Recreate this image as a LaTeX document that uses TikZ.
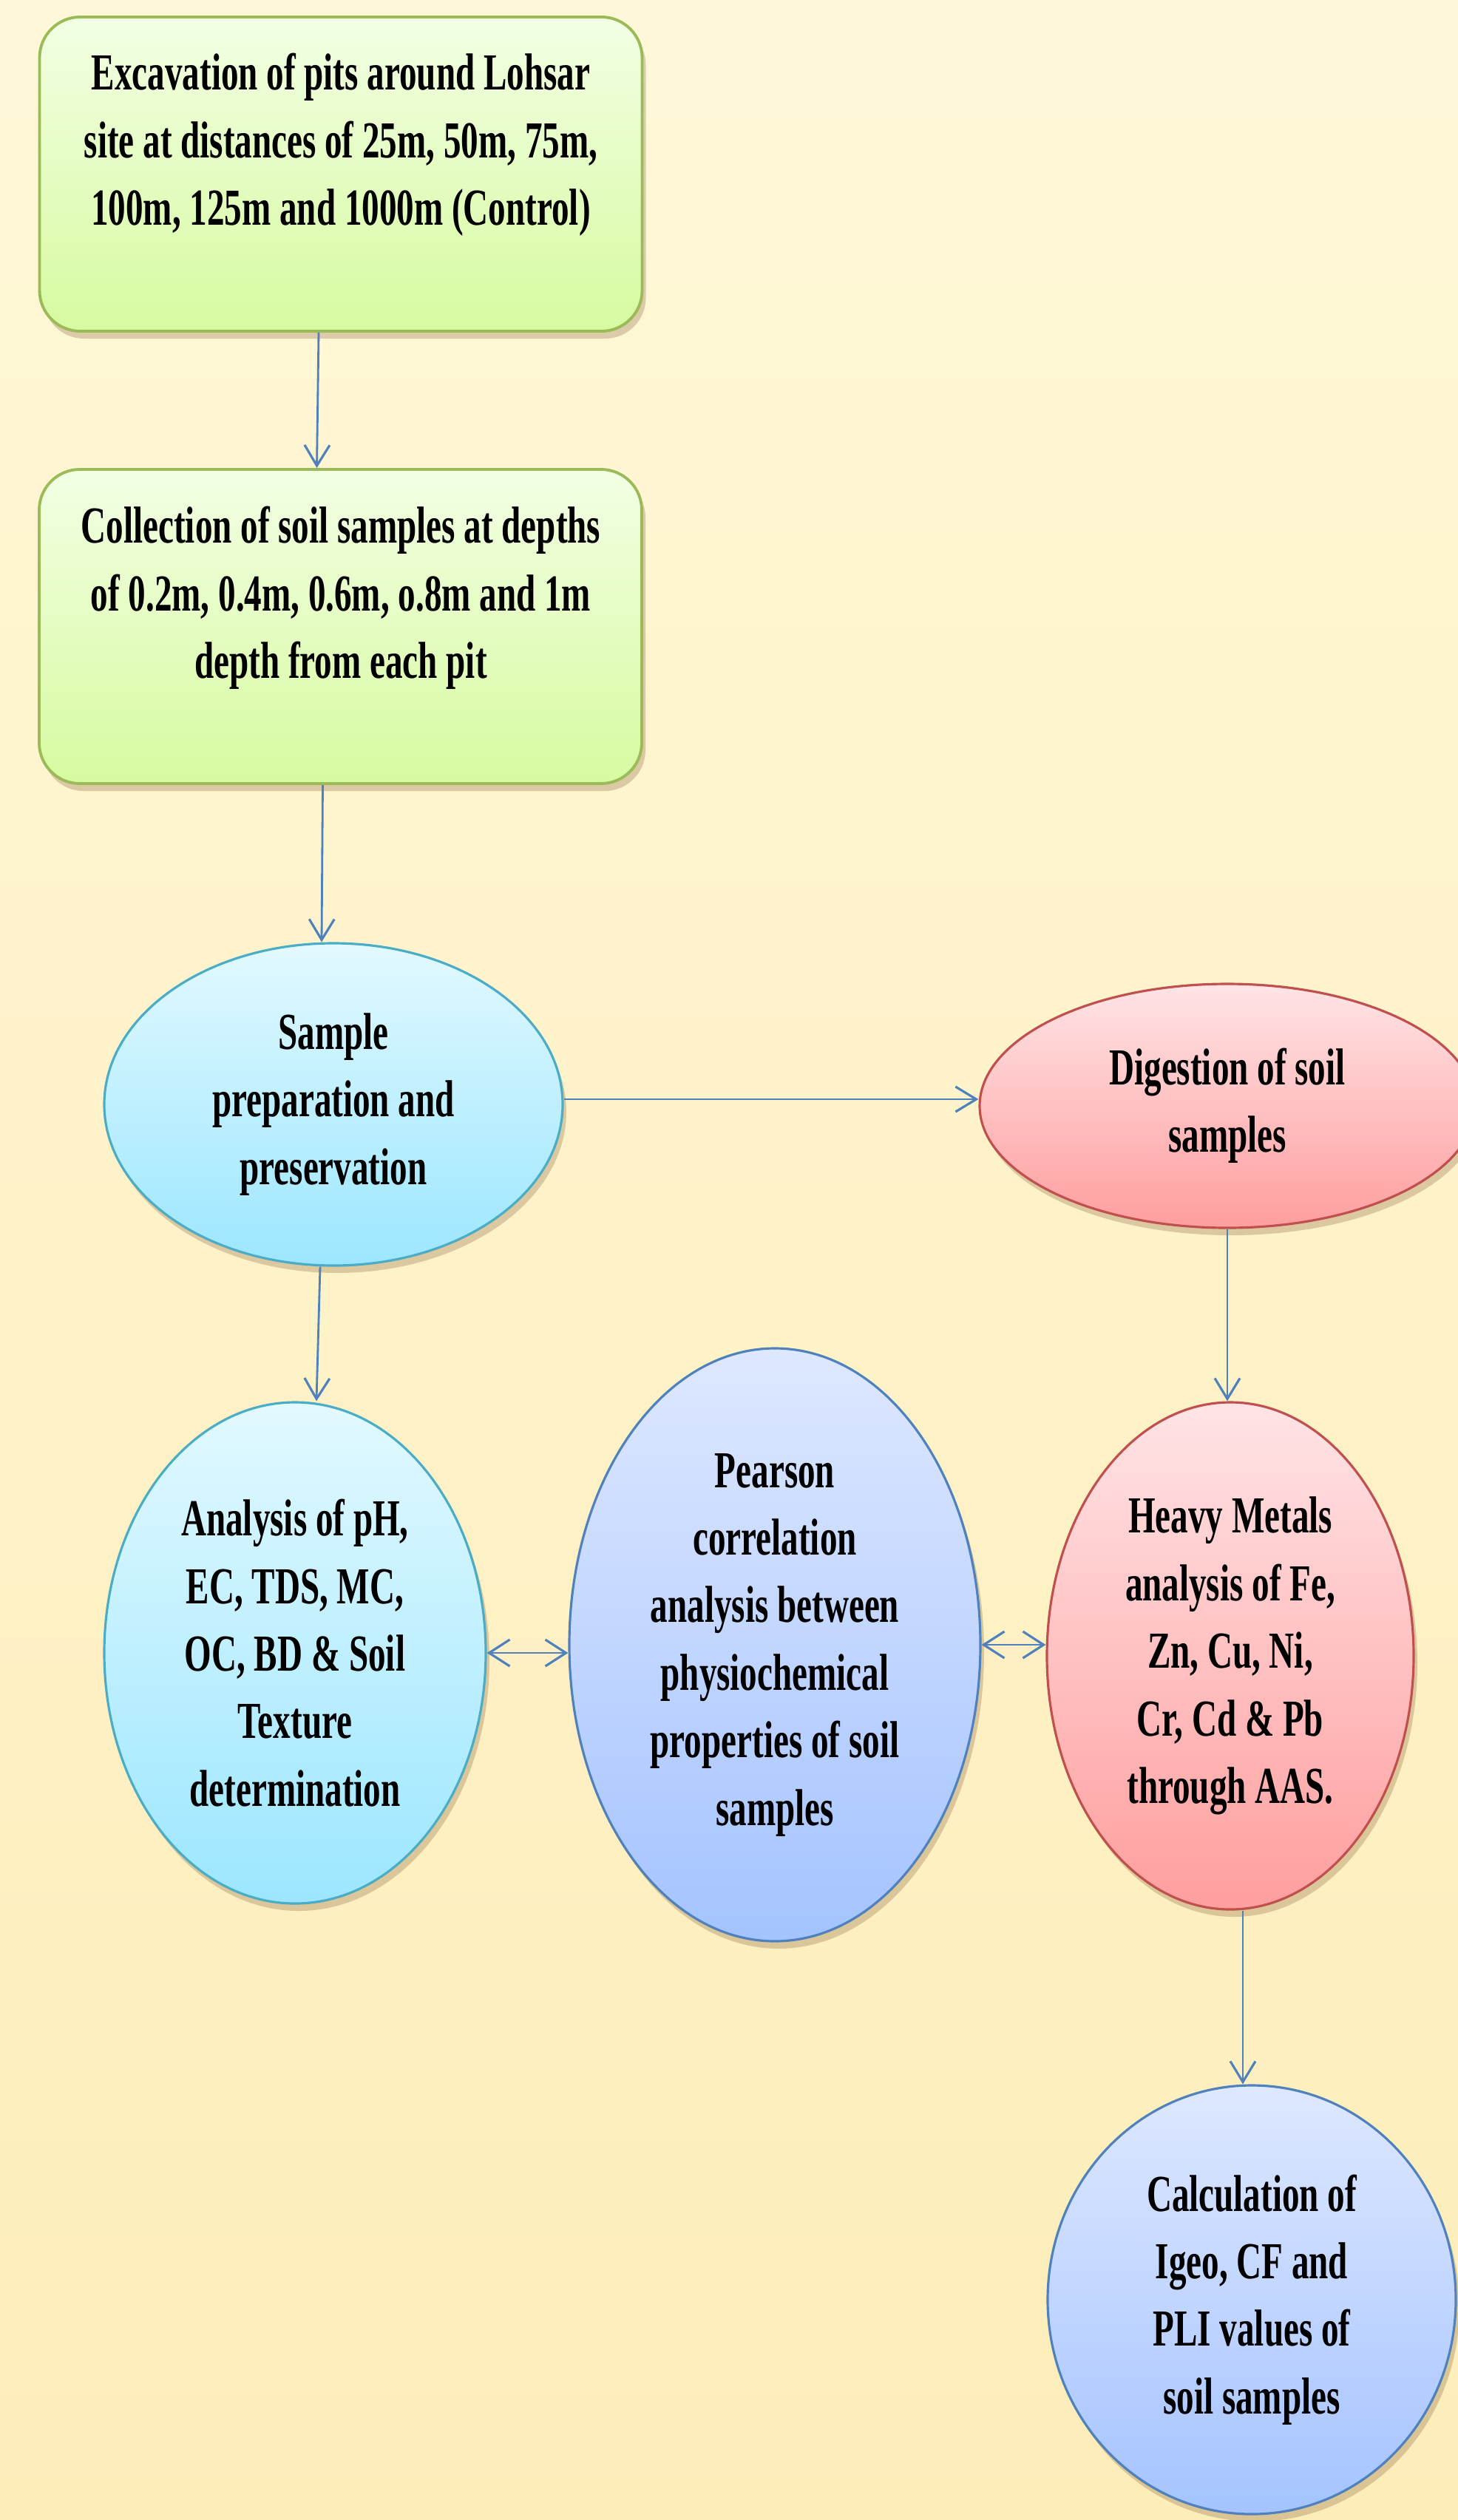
\documentclass[tikz,border=0pt]{standalone}
\usepackage{fontspec}
\newfontfamily\chartfont[FakeStretch=0.67]{Liberation Serif}
\usepackage{xcolor}
\usepackage{tikz}
\usetikzlibrary{shapes.geometric,arrows.meta,positioning,shadows}

\definecolor{bgtop}{RGB}{255,247,216}
\definecolor{bgbot}{RGB}{253,237,185}
\definecolor{grnline}{RGB}{155,187,89}
\definecolor{grntop}{RGB}{242,255,228}
\definecolor{grnbot}{RGB}{215,250,160}
\definecolor{cyanline}{RGB}{75,172,198}
\definecolor{cyantop}{RGB}{226,249,255}
\definecolor{cyanbot}{RGB}{156,230,255}
\definecolor{redline}{RGB}{192,80,77}
\definecolor{redtop}{RGB}{255,228,230}
\definecolor{redbot}{RGB}{255,158,158}
\definecolor{bluline}{RGB}{79,129,189}
\definecolor{blutop}{RGB}{222,232,255}
\definecolor{blubot}{RGB}{164,195,255}

\begin{document}
\begin{tikzpicture}[
  txt/.style={align=center, inner sep=0pt, font=\chartfont\bfseries\fontsize{20}{26}\selectfont},
  shadowed/.style={drop shadow={shadow xshift=0.05cm, shadow yshift=-0.1cm, opacity=0.25, fill=brown!60!black}},
  pitbox/.style={draw=grnline, line width=1.1pt, rounded corners=0.55cm, top color=grntop, bottom color=grnbot,
    minimum width=8.15cm, minimum height=4.25cm, shadowed},
  oval/.style={txt, ellipse, line width=0.9pt, shadowed},
  cyanoval/.style={oval, draw=cyanline, top color=cyantop, bottom color=cyanbot},
  redoval/.style={oval, draw=redline, top color=redtop, bottom color=redbot},
  bluoval/.style={oval, draw=bluline, top color=blutop, bottom color=blubot},
  flow/.style={-{Straight Barb[length=0.28cm, width=0.34cm, line width=0.9pt]}, line width=0.8pt, draw=bluline},
  both/.style={{Straight Barb[length=0.28cm, width=0.36cm, line width=0.9pt]}-{Straight Barb[length=0.28cm, width=0.36cm, line width=0.9pt]}, line width=0.8pt, draw=bluline}
]
\useasboundingbox (0,0) rectangle (19.72,-34.09);
\shade[top color=bgtop, bottom color=bgbot] (0,0) rectangle (19.72,-34.09);

% boxes
\node[pitbox] (excav) at (4.61,-2.355) {};
\node[txt] (excavT) at (4.61,-1.96) {Excavation of pits around Lohsar\\site at distances of 25m, 50m, 75m,\\100m, 125m and 1000m (Control)};
\node[pitbox] (collect) at (4.605,-8.475) {};
\node[txt] (collectT) at (4.61,-8.09) {Collection of soil samples at depths\\of 0.2m, 0.4m, 0.6m, o.8m and 1m\\depth from each pit};

% ellipses
\node[cyanoval, minimum width=6.2cm, minimum height=4.36cm] (prep) at (4.51,-14.94) {Sample\\preparation and\\preservation};
\node[redoval, minimum width=6.7cm, minimum height=3.3cm] (digest) at (16.6,-14.96) {Digestion of soil\\samples};
\node[cyanoval, minimum width=5.16cm, minimum height=6.78cm] (analysis) at (3.99,-22.36) {Analysis of pH,\\EC, TDS, MC,\\OC, BD \& Soil\\Texture\\determination};
\node[bluoval, minimum width=5.56cm, minimum height=8.02cm] (pearson) at (10.48,-22.25) {Pearson\\correlation\\analysis between\\physiochemical\\properties of soil\\samples};
\node[redoval, minimum width=4.96cm, minimum height=6.86cm] (heavy) at (16.64,-22.4) {Heavy Metals\\analysis of Fe,\\Zn, Cu, Ni,\\Cr, Cd \& Pb\\through AAS.};
\node[bluoval, minimum width=5.52cm, minimum height=5.8cm] (calc) at (16.93,-31.11) {Calculation of\\Igeo, CF and\\PLI values of\\soil samples};

% connectors
\draw[flow] ([xshift=-0.3cm]excav.south) -- ([xshift=-0.32cm]collect.north);
\draw[flow] ([xshift=-0.24cm]collect.south) -- ([xshift=-0.16cm]prep.north);
\draw[flow] ([yshift=0.07cm]prep.east) -- ([yshift=0.07cm]prep.east -| digest.west);
\draw[flow] ([xshift=-0.18cm]prep.south) -- ([xshift=0.29cm]analysis.north);
\draw[flow] (digest.south) -- (digest.south |- heavy.north);
\draw[flow] ([xshift=0.17cm]heavy.south) -- ([xshift=-0.12cm]calc.north);
\draw[both] (analysis.east) -- (analysis.east -| pearson.west);
\draw[both] (pearson.east) -- (pearson.east -| heavy.west);
\end{tikzpicture}
\end{document}
